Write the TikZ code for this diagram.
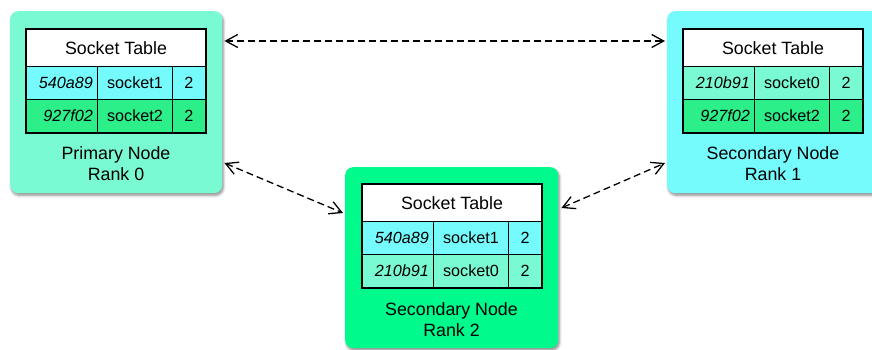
\documentclass[tikz,border=0pt]{standalone}
\usepackage{fontspec}
\setmainfont{Liberation Sans}
\usetikzlibrary{arrows.meta,shadows.blur,calc}

\definecolor{aqua}{HTML}{7AFAD2}
\definecolor{skycyan}{HTML}{76FBFD}
\definecolor{spring}{HTML}{00FA8C}
\definecolor{leaf}{HTML}{2CEF8A}

\tikzset{
  hostbox/.style={draw=none, rounded corners=8pt, inner sep=0pt,
    minimum width=212pt, minimum height=182pt, anchor=north west,
    blur shadow={shadow xshift=1.2pt, shadow yshift=-2.2pt,
      shadow blur radius=2.5pt, shadow blur steps=6, shadow opacity=45}},
  hostlabel/.style={align=center, font=\fontsize{17.8}{21.5}\selectfont},
  cellbase/.style={draw=black, line width=1pt, inner sep=0pt,
    minimum height=33pt, anchor=north west},
  headcell/.style={cellbase, fill=white, minimum width=179pt, minimum height=37pt,
    font=\fontsize{17.8}{20}\selectfont},
  idcell/.style={cellbase, text width=62pt, inner xsep=4.5pt, align=right,
    font=\fontsize{16.2}{19}\selectfont\itshape},
  sockcell/.style={cellbase, minimum width=75pt, font=\fontsize{16.2}{19}\selectfont},
  refcell/.style={cellbase, minimum width=33pt, font=\fontsize{16.2}{19}\selectfont},
  link/.style={draw=black, line width=1.3pt, dash pattern=on 7pt off 4pt,
    {Straight Barb[length=12pt,width=13pt,line width=1.3pt]}-{Straight Barb[length=12pt,width=13pt,line width=1.3pt]}}
}

% socket table: #1 name prefix, (#2,#3) top-left corner,
% rows (#4 id, #5 socket, #6 colour) and (#7 id, #8 socket, #9 colour)
\newcommand\socketgrid[9]{%
  \begin{scope}[shift={(#2,#3)}]
    \node[headcell] (#1h) at (0,0) {Socket Table};
    \node[idcell, fill=#6] (#1a1) at (0,37) {#4};
    \node[sockcell, fill=#6] (#1a2) at (71,37) {#5};
    \node[refcell, fill=#6] (#1a3) at (146,37) {2};
    \node[idcell, fill=#9] (#1b1) at (0,70) {#7};
    \node[sockcell, fill=#9] (#1b2) at (71,70) {#8};
    \node[refcell, fill=#9] (#1b3) at (146,70) {2};
    \draw[line width=1.8pt] (#1h.north west) rectangle (#1b3.south east);
  \end{scope}}

\begin{document}
\begin{tikzpicture}[x=1pt, y=-1pt]
  \useasboundingbox (0,0) rectangle (872,350);

  % host boxes
  \node[hostbox, fill=aqua] (p0) at (10,11) {};
  \node[hostbox, fill=skycyan] (s1) at (667,11) {};
  \node[hostbox, fill=spring, minimum width=213pt, minimum height=181pt] (s2) at (345,167) {};

  % socket tables
  \socketgrid{t0}{26}{29}{540a89}{socket1}{skycyan}{927f02}{socket2}{leaf}
  \socketgrid{t1}{683}{29}{210b91}{socket0}{aqua}{927f02}{socket2}{leaf}
  \socketgrid{t2}{362}{184}{540a89}{socket1}{skycyan}{210b91}{socket0}{aqua}

  % host labels
  \node[hostlabel] (p0l) at (116,163.5) {Primary Node\\Rank 0};
  \node[hostlabel] (s1l) at (773,163.5) {Secondary Node\\Rank 1};
  \node[hostlabel] (s2l) at (451.5,319.4) {Secondary Node\\Rank 2};

  % links between the hosts
  \draw[link] ([shift={(2,30)}]p0.north east) -- ([shift={(-2,30)}]s1.north west);
  \draw[link] ([shift={(2,152)}]p0.north east) -- ([shift={(-2,46)}]s2.north west);
  \draw[link] ([shift={(3,41)}]s2.north east) -- ([shift={(-2,152)}]s1.north west);
\end{tikzpicture}
\end{document}
